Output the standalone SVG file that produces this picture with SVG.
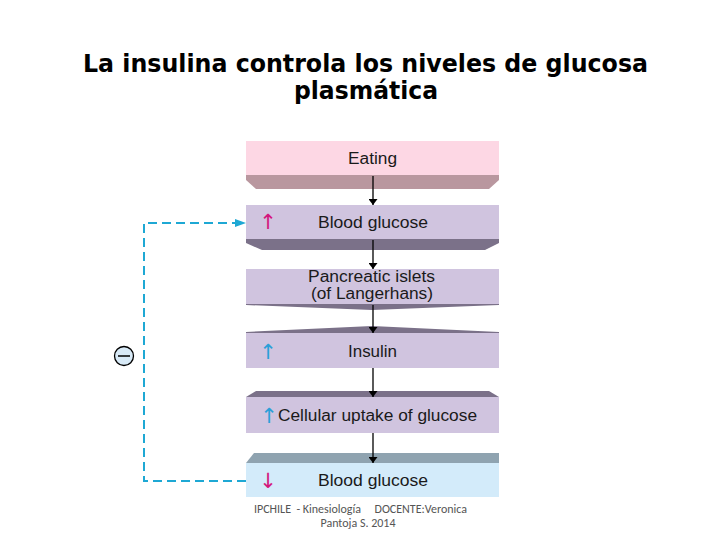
<svg xmlns="http://www.w3.org/2000/svg" width="720" height="540" viewBox="0 0 720 540">
<defs>
<style>
.t{font-family:"Liberation Sans",Arial,sans-serif;font-size:16px;fill:#1a1a1a;text-anchor:middle}
.lav{fill:#d0c4df}
.dk{fill:#7b7189}
.sym{font-family:"DejaVu Sans",sans-serif;font-size:21px;text-anchor:middle}
.fb{fill:none;stroke:#1ea8d4;stroke-width:2;stroke-dasharray:9 5}
.title{font-family:"DejaVu Sans",Verdana,sans-serif;font-weight:bold;font-size:24px;fill:#000;text-anchor:middle}
.foot{font-family:"Carlito","Liberation Sans",sans-serif;font-size:12px;fill:#555;text-anchor:middle}
</style>
<marker id="ah" viewBox="0 0 10 10" refX="10" refY="5" markerWidth="6" markerHeight="9" markerUnits="userSpaceOnUse" orient="auto" preserveAspectRatio="none"><path d="M0,0 L10,5 L0,10 z" fill="#000"/></marker>
<marker id="bh" viewBox="0 0 10 10" refX="10" refY="5" markerWidth="11" markerHeight="8" markerUnits="userSpaceOnUse" orient="auto" preserveAspectRatio="none"><path d="M0,0 L10,5 L0,10 z" fill="#1ea8d4"/></marker>
</defs>
<rect width="720" height="540" fill="#fff"/>
<text class="title" x="365.5" y="72" textLength="565" lengthAdjust="spacingAndGlyphs">La insulina controla los niveles de glucosa</text>
<text class="title" x="366" y="99" textLength="144" lengthAdjust="spacingAndGlyphs">plasmática</text>

<g id="eating">
<rect x="246" y="141" width="253" height="35" fill="#fdd7e4"/>
<polygon points="246,175 499,175 499,180 489,189 256,189 246,180" fill="#b9979f"/>
<text class="t" x="372.5" y="164" textLength="49" lengthAdjust="spacingAndGlyphs">Eating</text>
</g>
<g id="blood-glucose-high">
<rect class="lav" x="246" y="205" width="253" height="35"/>
<polygon class="dk" points="246,239 499,239 499,243 485,250 262,250 246,243"/>
<text class="sym" x="268" y="229" fill="#d4177d">↑</text>
<text class="t" x="373" y="228" textLength="110" lengthAdjust="spacingAndGlyphs">Blood glucose</text>
</g>
<g id="pancreatic-islets">
<rect class="lav" x="246" y="269" width="253" height="36"/>
<polygon class="dk" points="246,304 499,304 499,305 372,310 246,305"/>
<text class="t" x="371.5" y="282" textLength="127" lengthAdjust="spacingAndGlyphs">Pancreatic islets</text>
<text class="t" x="372" y="299" textLength="122" lengthAdjust="spacingAndGlyphs">(of Langerhans)</text>
</g>
<g id="insulin">
<polygon class="dk" points="246,333 246,332 372,326 499,332 499,333"/>
<rect class="lav" x="246" y="333" width="253" height="35"/>
<text class="sym" x="268" y="359" fill="#2a9fd8">↑</text>
<text class="t" x="372.5" y="357" textLength="49" lengthAdjust="spacingAndGlyphs">Insulin</text>
</g>
<g id="cellular-uptake">
<polygon class="dk" points="246,397 256,391 489,391 499,397"/>
<rect class="lav" x="246" y="397" width="253" height="36"/>
<text class="sym" x="269" y="423" fill="#2a9fd8">↑</text>
<text class="t" x="377.5" y="421" textLength="199" lengthAdjust="spacingAndGlyphs">Cellular uptake of glucose</text>
</g>
<g id="blood-glucose-low">
<polygon points="246,463 254,453 499,453 499,463" fill="#8fa3b0"/>
<rect x="246" y="463" width="253" height="34" fill="#d3ebfa"/>
<text class="sym" x="268" y="488" fill="#d4177d">↓</text>
<text class="t" x="373" y="486" textLength="110" lengthAdjust="spacingAndGlyphs">Blood glucose</text>
</g>
<g id="inhibit">
<circle cx="124" cy="356" r="9.5" fill="#d8eaf7" stroke="#000" stroke-width="1.3"/>
<line x1="118" y1="356" x2="130" y2="356" stroke="#000" stroke-width="1.5"/>
</g>
<g id="connectors" stroke="#000" stroke-width="1.3" fill="none">
<line x1="373" y1="176" x2="373" y2="205" marker-end="url(#ah)"/>
<line x1="373" y1="240" x2="373" y2="269" marker-end="url(#ah)"/>
<line x1="373" y1="305" x2="373" y2="333" marker-end="url(#ah)"/>
<line x1="373" y1="368" x2="373" y2="397" marker-end="url(#ah)"/>
<line x1="373" y1="433" x2="373" y2="463" marker-end="url(#ah)"/>
<path class="fb" d="M246,481 H144 V223 H246" marker-end="url(#bh)"/>
</g>
<text class="foot" x="360.5" y="513" xml:space="preserve" textLength="213" lengthAdjust="spacing">IPCHILE  - Kinesiología     DOCENTE:Veronica</text>
<text class="foot" x="358" y="527">Pantoja S. 2014</text>
</svg>
